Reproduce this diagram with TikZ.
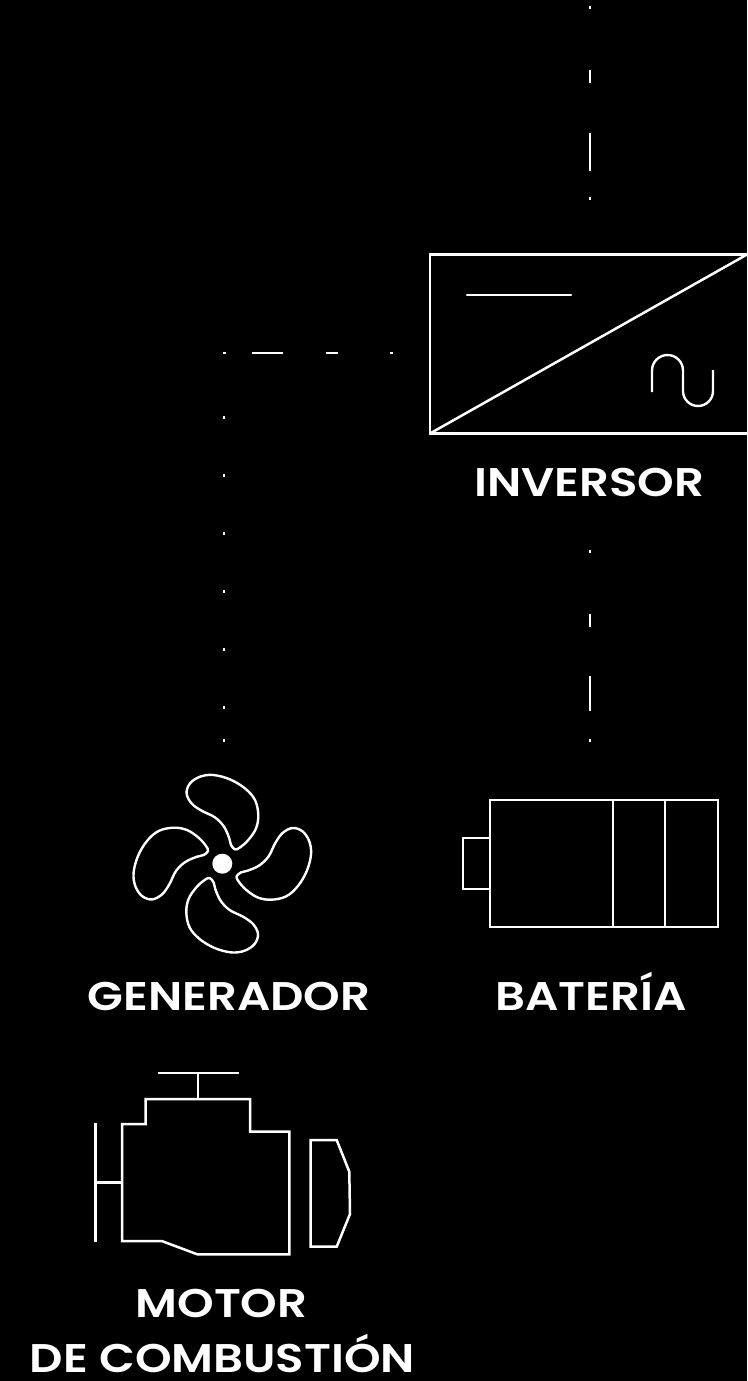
\documentclass[tikz,border=0pt]{standalone}
\usepackage{fontspec}
\setmainfont{Poppins}[BoldFont={Poppins SemiBold},FakeStretch=1.165]
\begin{document}
\begin{tikzpicture}[x=1pt,y=-1pt,
  outline/.style={draw=white,line width=2.5pt,line join=miter},
  thin outline/.style={draw=white,line width=2.4pt,line join=round},
  boxed/.style={outline,inner sep=0pt,outer sep=0pt},
  link/.style={draw=white,line width=2.2pt},
  caption/.style={text=white,inner sep=0pt,font=\fontsize{40}{40}\selectfont\bfseries,anchor=base}]
\fill[black] (0,0) rectangle (747,1381);
\useasboundingbox (0,0) rectangle (747,1381);
% inverter
\begin{scope}
\clip (0,0) rectangle (747,1381);
\node[boxed,minimum width=320pt,minimum height=179pt,anchor=north west] (inv) at (430,254.5) {};
\draw[outline] (inv.south west) -- (747,254.5);
\end{scope}
\coordinate (dcA) at (467,295);
\coordinate (dcB) at (571,295);
\draw[thin outline,line cap=round] (dcA) -- (dcB);
\draw[thin outline] (652,392) -- (652,370.5) arc[start angle=180,end angle=360,radius=15.5] -- (683,391) arc[start angle=180,end angle=0,radius=15] -- (713,370);
\node[caption] (tinv) at (589,496) {INVERSOR};
% battery
\node[boxed,minimum width=228pt,minimum height=127pt,anchor=north west] (bat) at (490,800) {};
\draw[outline] (613,800) -- (613,927) (665,800) -- (665,927);
\node[boxed,minimum width=27pt,minimum height=51pt,anchor=north east] (nub) at (490,838) {};
\node[caption] (tbat) at (591,1010) {BATERÍA};
% fan
\node[circle,fill=white,minimum size=20pt,inner sep=0pt] (hub) at (222.3,863.7) {};
\foreach \a in {0,90,180,270}
  \draw[thin outline,shift={(222.3,863.7)},rotate=\a] plot[smooth cycle,tension=0.6] coordinates {
    (12.7,-14.3) (8.7,-18.7) (7,-25.3) (1.7,-37) (-7.3,-46.3) (-20.7,-53) (-30.7,-60.3) (-35.7,-70.3) (-32.3,-80.3)
    (-22.3,-87) (-9,-88.7) (7.7,-84.3) (22.7,-75.3) (32.7,-63.7) (36,-48.7) (33.7,-35.3) (26,-23.7) (17.7,-16.3)};
\node[caption] (tgen) at (229,1010) {GENERADOR};
% engine
\draw[outline] (145.7,1099) -- (250,1099) -- (250,1131.7) -- (289.3,1131.7) -- (289.3,1254.3) -- (197.3,1254.3) -- (161.7,1241) -- (122,1241) -- (122,1124) -- (145.7,1124) -- cycle;
\draw[outline] (158,1073) -- (239,1073) (198,1073) -- (198,1099);
\draw[outline] (95.3,1122.7) -- (95.3,1241.7) (95.3,1182.3) -- (122,1182.3);
\draw[outline] (310.7,1140) -- (336.7,1140) -- (349.3,1171.7) -- (350,1214) -- (336.7,1246.7) -- (310.7,1246.7) -- cycle;
\node[caption] (tmot) at (221.5,1317) {MOTOR};
\node[caption] (tcom) at (222.5,1372) {DE COMBUSTIÓN};
% connectors
\coordinate (outTop) at (590,6);
\coordinate (outEnd) at (590,200);
\coordinate (batTop) at (590,550);
\coordinate (batEnd) at (590,742);
\coordinate (genH) at (393,353);
\coordinate (genC) at (224,353);
\coordinate (genEnd) at (224,742);
\draw[link,dash pattern=on 3pt off 61pt on 13pt off 50pt on 38pt off 26pt on 3pt off 20pt] (outTop) -- (outEnd);
\draw[link,dash pattern=on 3pt off 61pt on 13pt off 49pt on 35pt off 28pt on 3pt off 20pt] (batTop) -- (batEnd);
\draw[link,dash pattern=on 3pt off 52pt on 12pt off 43pt on 31pt off 26pt on 3pt off 62pt on 3pt off 55pt on 3pt off 55pt on 3pt off 55pt on 3pt off 55pt on 3pt off 55pt on 3pt off 30pt on 3pt off 20pt] (genH) -- (genC) -- (genEnd);
\end{tikzpicture}
\end{document}
